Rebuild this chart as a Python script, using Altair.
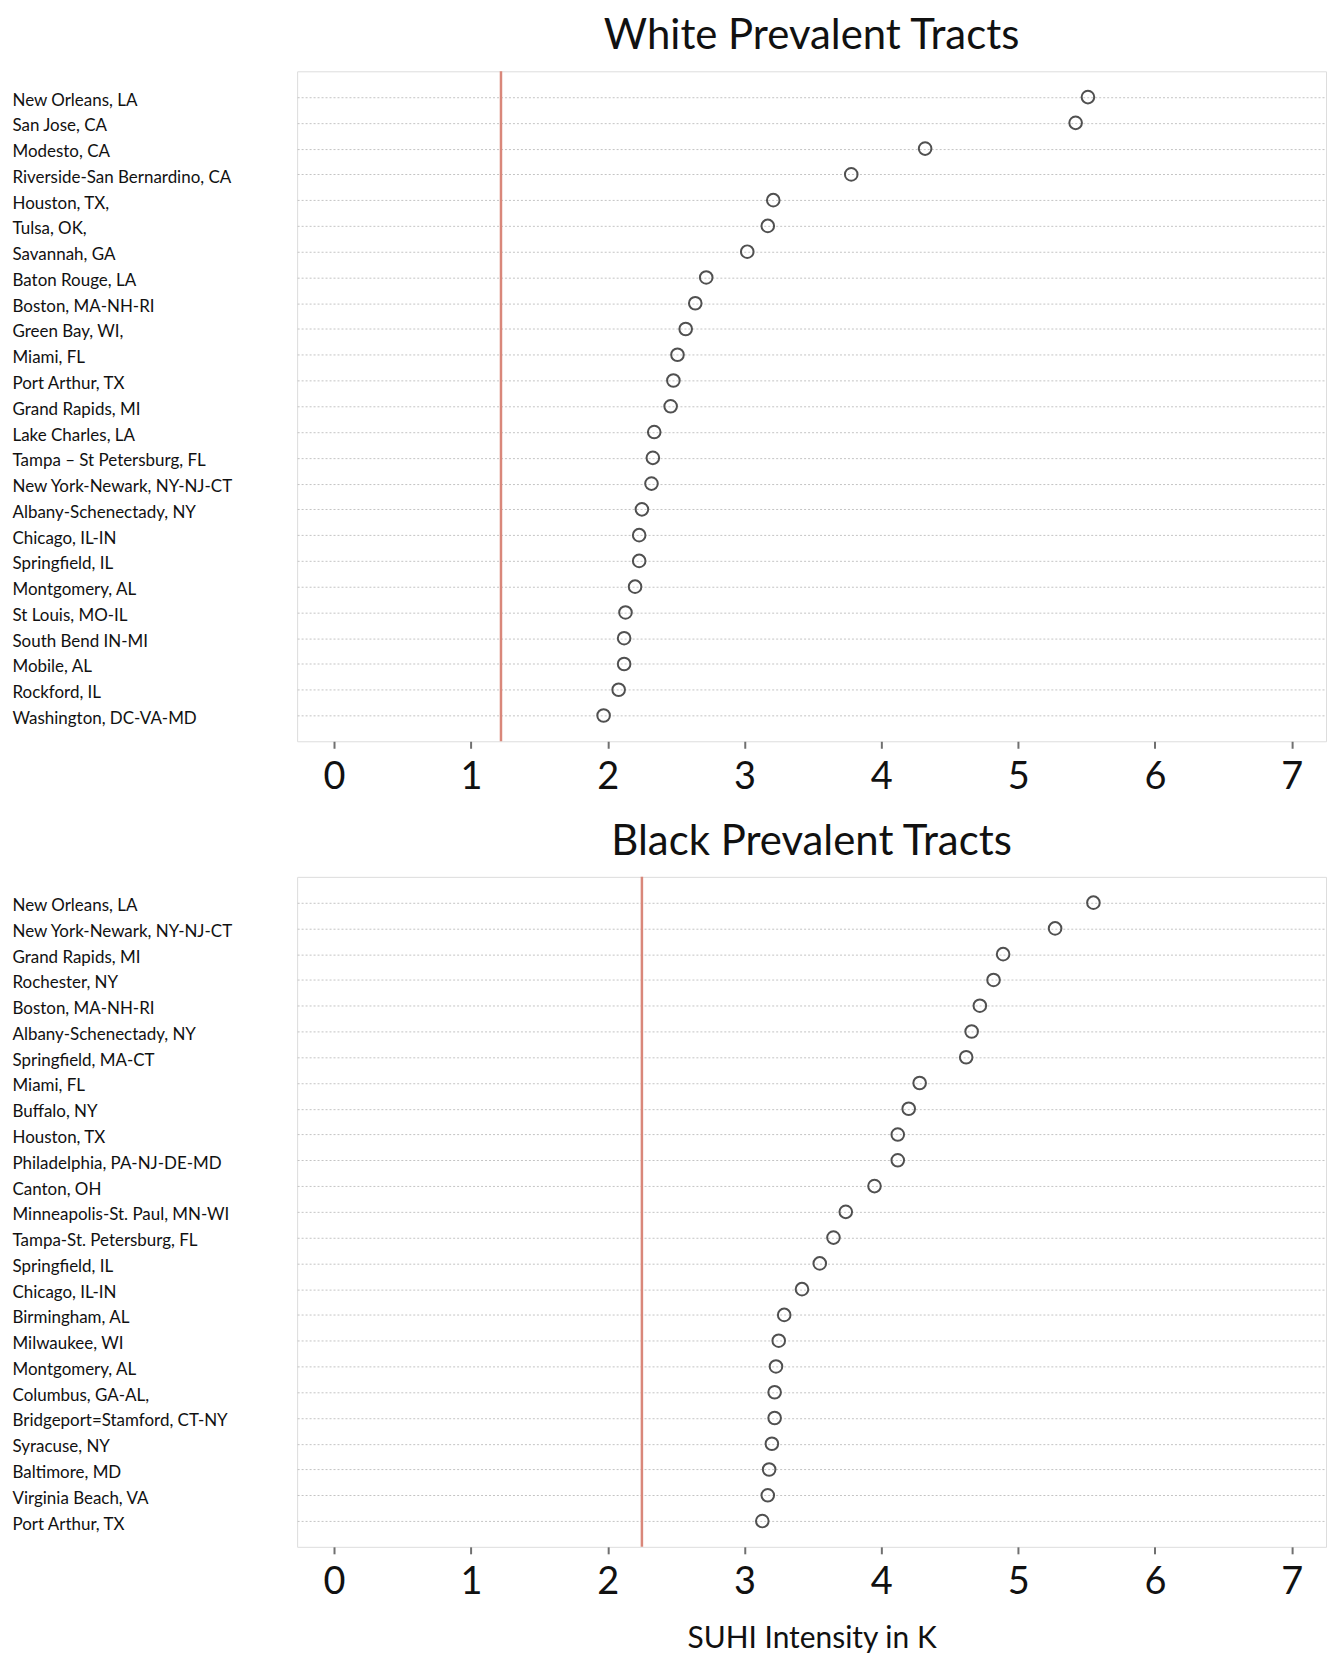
import altair as alt
import pandas as pd

white_cities = [
    "New Orleans, LA", "San Jose, CA", "Modesto, CA", "Riverside-San Bernardino, CA",
    "Houston, TX,", "Tulsa, OK,", "Savannah, GA", "Baton Rouge, LA", "Boston, MA-NH-RI",
    "Green Bay, WI,", "Miami, FL", "Port Arthur, TX", "Grand Rapids, MI", "Lake Charles, LA",
    "Tampa \u2013 St Petersburg, FL", "New York-Newark, NY-NJ-CT", "Albany-Schenectady, NY",
    "Chicago, IL-IN", "Springfield, IL", "Montgomery, AL", "St Louis, MO-IL",
    "South Bend IN-MI", "Mobile, AL", "Rockford, IL", "Washington, DC-VA-MD",
]
white_values = [
    5.51, 5.42, 4.32, 3.78, 3.21, 3.17, 3.02, 2.72, 2.64, 2.57, 2.51, 2.48, 2.46,
    2.34, 2.33, 2.32, 2.25, 2.23, 2.23, 2.20, 2.13, 2.12, 2.12, 2.08, 1.97,
]
white_ref = [1.22]

black_cities = [
    "New Orleans, LA", "New York-Newark, NY-NJ-CT", "Grand Rapids, MI", "Rochester, NY",
    "Boston, MA-NH-RI", "Albany-Schenectady, NY", "Springfield, MA-CT", "Miami, FL",
    "Buffalo, NY", "Houston, TX", "Philadelphia, PA-NJ-DE-MD", "Canton, OH",
    "Minneapolis-St. Paul, MN-WI", "Tampa-St. Petersburg, FL", "Springfield, IL",
    "Chicago, IL-IN", "Birmingham, AL", "Milwaukee, WI", "Montgomery, AL",
    "Columbus, GA-AL,", "Bridgeport=Stamford, CT-NY", "Syracuse, NY", "Baltimore, MD",
    "Virginia Beach, VA", "Port Arthur, TX",
]
black_values = [
    5.55, 5.27, 4.89, 4.82, 4.72, 4.66, 4.62, 4.28, 4.20, 4.12, 4.12, 3.95, 3.74,
    3.65, 3.55, 3.42, 3.29, 3.25, 3.23, 3.22, 3.22, 3.20, 3.18, 3.17, 3.13,
]
black_ref = [2.25]

x_ticks = [0, 1, 2, 3, 4, 5, 6, 7]
FONT = "Lato"


def panel(cities, values, ref, title, xtitle):
    df = pd.DataFrame({"city": cities, "val": values})
    rdf = pd.DataFrame({"v": ref})
    xscale = alt.Scale(domain=[-0.27, 7.25], nice=False, zero=False)
    xaxis = alt.Axis(
        values=x_ticks, format="d", grid=False, domain=False, ticks=True, tickSize=7,
        tickColor="#707070", tickWidth=2, labelFontSize=38, labelColor="#111111",
        labelFont=FONT, labelPadding=10, title=xtitle, titleFont=FONT,
        titleFontSize=30, titleFontWeight="normal", titleColor="#111111",
        titlePadding=22,
    )
    points = alt.Chart(df).mark_point(
        shape="circle", filled=False, size=160, stroke="#505050", strokeWidth=2,
        opacity=1,
    ).encode(
        x=alt.X("val:Q", scale=xscale, axis=xaxis),
        y=alt.Y(
            "city:N", sort=None, scale=alt.Scale(padding=1),
            axis=alt.Axis(
                title=None, domain=False, ticks=False, labelAlign="left",
                labelPadding=286, labelFontSize=17, labelFont=FONT,
                labelColor="#111111", labelOffset=3, labelLimit=400, grid=True,
                gridColor="#c4c4c4", gridDash=[2, 2], gridWidth=1,
            ),
        ),
    )
    rule = alt.Chart(rdf).mark_rule(color="#d9877a", strokeWidth=2.5).encode(
        x=alt.X("v:Q", scale=xscale)
    )
    return alt.layer(rule, points).properties(
        width=1032, height=672,
        title=alt.TitleParams(
            title, fontSize=42, font=FONT, fontWeight="normal", color="#111111",
            anchor="middle", offset=12,
        ),
    )


top = panel(white_cities, white_values, white_ref, "White Prevalent Tracts", None)
bottom = panel(black_cities, black_values, black_ref, "Black Prevalent Tracts",
               "SUHI Intensity in K")

chart = alt.vconcat(top, bottom, spacing=23).properties(
    padding={"left": 3, "top": 4, "right": 0, "bottom": 0}
).configure_view(
    stroke="#808080", strokeWidth=2
).configure(background="white")

chart.save("out.html", embed_options={"renderer": "svg", "actions": False})
